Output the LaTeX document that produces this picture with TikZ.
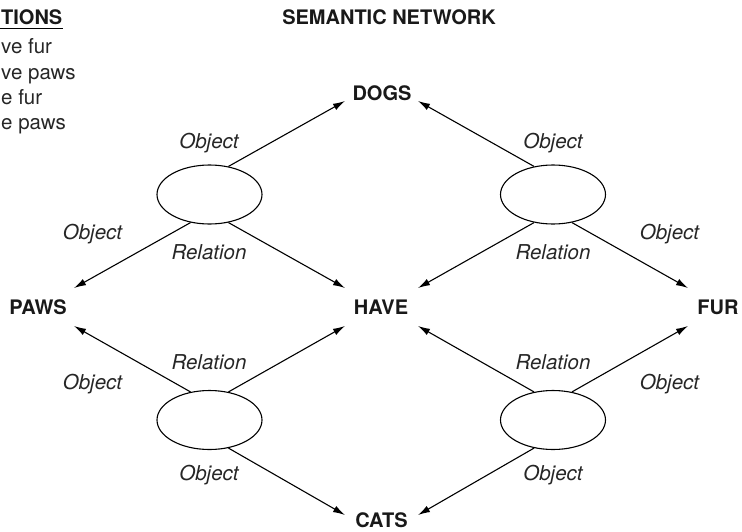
\documentclass[tikz,border=0pt]{standalone}
\usepackage{fontspec}
\setmainfont{TeX Gyre Heros}
\usetikzlibrary{arrows.meta,shapes.geometric}
\begin{document}
\begin{tikzpicture}[x=1pt,y=-1pt,
  word/.style={font=\fontsize{20}{24}\selectfont\bfseries, inner sep=0pt, text=black!90},
  lbl/.style={font=\fontsize{20.5}{24}\selectfont\itshape, inner sep=0pt, anchor=base, text=black!85},
  txt/.style={font=\fontsize{20.5}{24}\selectfont, inner sep=0pt, anchor=base west, text=black!85},
  oval/.style={draw, ellipse, line width=1.1pt, minimum width=105pt, minimum height=59pt, inner sep=0pt},
  link/.style={line width=1.1pt, -{Latex[length=12pt,width=7pt]}}]
\useasboundingbox (0,0) rectangle (742,531);
% left legend (as cut by the picture's edge)
\node[font=\fontsize{20}{24}\selectfont\bfseries, inner sep=0pt, anchor=base west, text=black!90] (head) at (1,24) {TIONS};
\coordinate (ulstart) at (0,28.3);
\draw[line width=1.3pt] (ulstart) -- ([shift={(0,4.3)}]head.base east);
\node[txt] (p1) at (1,53) {ve fur};
\node[txt] (p2) at (1,79) {ve paws};
\node[txt] (p3) at (1,104) {e fur};
\node[txt] (p4) at (1,129) {e paws};
% title
\node[word, anchor=base] (title) at (389,24.7) {SEMANTIC NETWORK};
% concept nodes
\node[word] (dogs) at (382,93) {DOGS};
\node[word] (paws) at (38,307) {PAWS};
\node[word] (have) at (381,307) {HAVE};
\node[word] (fur)  at (718,307) {FUR};
\node[word] (cats) at (381.5,520.5) {CATS};
% proposition ellipses
\node[oval] (e1) at (209.5,194.5) {};
\node[oval] (e2) at (553,194.5) {};
\node[oval] (e3) at (209.5,420) {};
\node[oval] (e4) at (553,420) {};
% connectors
\draw[link] (e1.56)   -- ([shift={(-37,8)}]dogs.center);
\draw[link] (e1.-124) -- ([shift={(36,-19)}]paws.center);
\draw[link] (e1.-56)  -- ([shift={(-36,-19)}]have.center);
\draw[link] (e2.124)  -- ([shift={(36,8)}]dogs.center);
\draw[link] (e2.-124) -- ([shift={(37,-19)}]have.center);
\draw[link] (e2.-56)  -- ([shift={(-30,-19)}]fur.center);
\draw[link] (e3.124)  -- ([shift={(36,19)}]paws.center);
\draw[link] (e3.56)   -- ([shift={(-36,19)}]have.center);
\draw[link] (e3.-56)  -- ([shift={(-36.5,-5.5)}]cats.center);
\draw[link] (e4.124)  -- ([shift={(37,19)}]have.center);
\draw[link] (e4.56)   -- ([shift={(-30,19)}]fur.center);
\draw[link] (e4.-124) -- ([shift={(36.5,-5.5)}]cats.center);
% labels
\node[lbl] (o1) at (209,148.3) {Object};
\node[lbl] (o2) at (92.5,239.3) {Object};
\node[lbl] (r1) at (209,259.8) {Relation};
\node[lbl] (o3) at (553,148.3) {Object};
\node[lbl] (o4) at (669.5,239.3) {Object};
\node[lbl] (r2) at (553,259.8) {Relation};
\node[lbl] (r3) at (209,369.3) {Relation};
\node[lbl] (o5) at (92.5,389.3) {Object};
\node[lbl] (o6) at (209,480.3) {Object};
\node[lbl] (r4) at (553,369.3) {Relation};
\node[lbl] (o7) at (669.5,389.3) {Object};
\node[lbl] (o8) at (553,480.3) {Object};
\end{tikzpicture}
\end{document}
